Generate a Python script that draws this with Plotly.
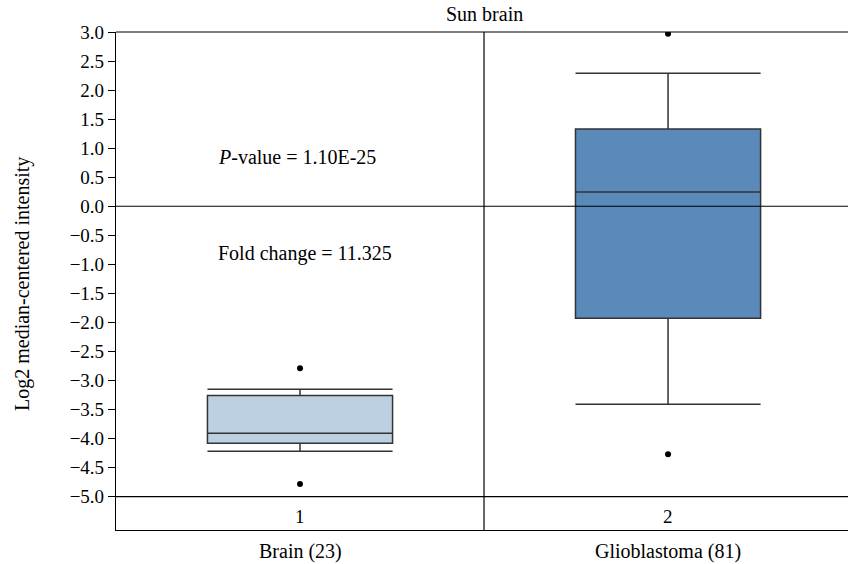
import plotly.graph_objects as go

title = "Sun brain"
categories = ["Brain (23)", "Glioblastoma (81)"]
positions = [1, 2]
group_numbers = ["1", "2"]
q1 = [-4.08, -1.93]
median = [-3.91, 0.245]
q3 = [-3.26, 1.33]
lower_fence = [-4.22, -3.41]
upper_fence = [-3.15, 2.29]
outlier_x = [1, 1, 2, 2]
outlier_y = [-2.79, -4.78, 2.97, -4.27]
fill_colors = ["#BDD0E2", "#5A8AB9"]
y_ticks = [-5.0, -4.5, -4.0, -3.5, -3.0, -2.5, -2.0, -1.5, -1.0, -0.5,
           0.0, 0.5, 1.0, 1.5, 2.0, 2.5, 3.0]
p_text = "<i>P</i>-value = 1.10E-25"
fold_text = "Fold change = 11.325"
y_title = "Log2 median-centered intensity"

FONT = "Liberation Serif"
LINE = "#333333"
TXT = 20
TICK = 19

# plot area in pixels (for placing free text)
L, R, T, B = 116, 848, 32, 530

def px_x(p):
    return (p - L) / (R - L)

def px_y(p):
    return (B - p) / (B - T)

fig = go.Figure()
for i in range(2):
    fig.add_trace(go.Box(
        x=[positions[i]], q1=[q1[i]], median=[median[i]], q3=[q3[i]],
        lowerfence=[lower_fence[i]], upperfence=[upper_fence[i]],
        width=0.503, whiskerwidth=1, fillcolor=fill_colors[i],
        line=dict(color=LINE, width=1.5), boxpoints=False,
        showlegend=False, hoverinfo="skip"))

fig.add_trace(go.Scatter(x=outlier_x, y=outlier_y, mode="markers",
                         marker=dict(color="black", size=6),
                         showlegend=False, hoverinfo="skip"))

shapes = [
    dict(type="line", xref="paper", yref="y", x0=0, x1=1, y0=0, y1=0,
         line=dict(color="black", width=1.2)),
    dict(type="line", xref="paper", yref="y", x0=0, x1=1, y0=-5, y1=-5,
         line=dict(color="black", width=1.2)),
    dict(type="line", xref="paper", yref="paper", x0=0, x1=1, y0=1, y1=1,
         line=dict(color="black", width=1.2)),
    dict(type="line", xref="x", yref="paper", x0=1.5, x1=1.5, y0=0, y1=1,
         line=dict(color="black", width=1.2)),
]

annotations = [
    dict(x=positions[i], y=-5.35, xref="x", yref="y", text=group_numbers[i],
         showarrow=False, font=dict(family=FONT, size=TICK, color="black"))
    for i in range(2)
]
annotations += [
    dict(x=px_x(216), y=0.848, xref="paper", yref="y", text=p_text, showarrow=False,
         xanchor="left", font=dict(family=FONT, size=TXT, color="black")),
    dict(x=px_x(216), y=-0.822, xref="paper", yref="y", text=fold_text, showarrow=False,
         xanchor="left", font=dict(family=FONT, size=TXT, color="black")),
    dict(x=px_x(22), y=px_y(284), xref="paper", yref="paper", text=y_title,
         showarrow=False, textangle=-90, xanchor="center", yanchor="middle",
         font=dict(family=FONT, size=TXT, color="black")),
    dict(x=px_x(484), y=px_y(14), xref="paper", yref="paper", text=title,
         showarrow=False, xanchor="center", yanchor="middle",
         font=dict(family=FONT, size=TXT, color="black")),
]
annotations += [
    dict(x=positions[i], y=px_y(551), xref="x", yref="paper", text=categories[i],
         showarrow=False, xanchor="center", yanchor="middle",
         font=dict(family=FONT, size=TXT, color="black"))
    for i in range(2)
]

fig.update_layout(
    width=848, height=564,
    margin=dict(l=L, r=848 - R, t=T, b=564 - B),
    paper_bgcolor="white", plot_bgcolor="white",
    font=dict(family=FONT, size=TICK, color="black"),
    shapes=shapes, annotations=annotations,
)
fig.update_xaxes(range=[0.5, 2.489], showticklabels=False,
                 showline=True, linecolor="black", linewidth=1.2,
                 showgrid=False, zeroline=False, ticks="")
fig.update_yaxes(range=[-5.574, 3.0], tickmode="array", tickvals=y_ticks,
                 tickformat=".1f",
                 showline=True, linecolor="black", linewidth=1.2, showgrid=False,
                 zeroline=False, ticks="outside", ticklen=7, tickcolor="black",
                 tickwidth=1.2, tickfont=dict(family=FONT, size=TICK, color="black"))

fig.write_html("out.html")
